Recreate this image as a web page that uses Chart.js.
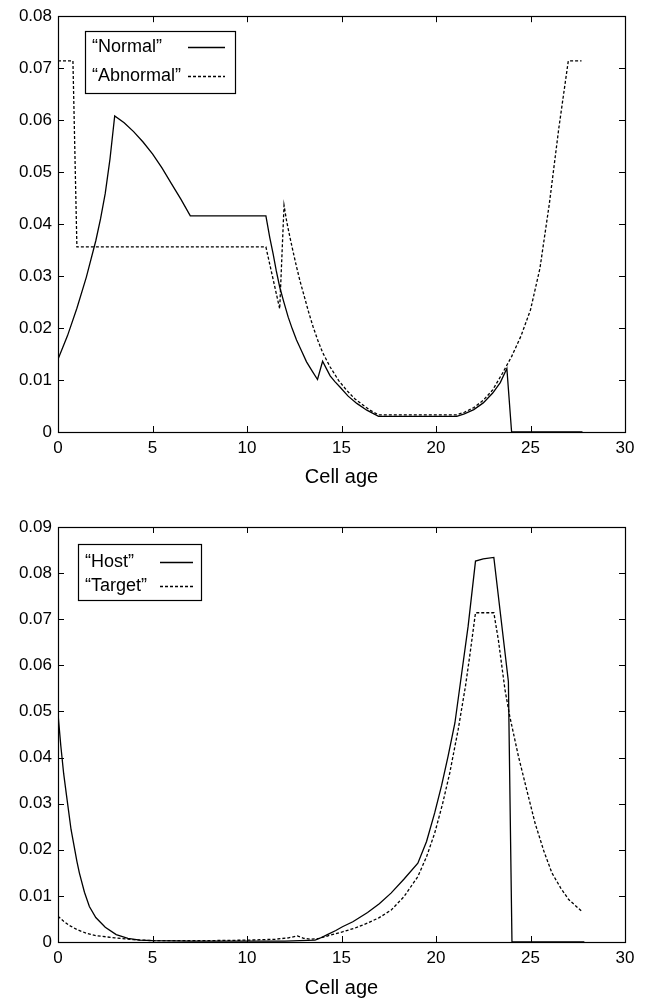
<!DOCTYPE html>
<html>
<head>
<meta charset="utf-8">
<script src="https://cdn.jsdelivr.net/npm/chart.js@4.4.1/dist/chart.umd.min.js"></script>
<style>
  body { margin: 0; background: #fff; }
  canvas { position: absolute; left: 0; }
</style>
</head>
<body>
<canvas id="diagram1" width="647" height="490" style="top:0px"></canvas>
<canvas id="diagram2" width="647" height="511" style="top:490px"></canvas>
<script>
// övre diagrammet: "Normal" / "Abnormal"
const ageNormal = [0, 0.5, 1.0, 1.5, 2.0, 2.25, 2.5, 2.75, 3.0, 3.5, 4, 4.5, 5, 5.5, 6, 6.5, 7,
  11, 11.2, 11.38, 11.55, 11.73, 11.95, 12.18, 12.4, 12.62, 12.9, 13.15, 13.45, 13.73,
  14.0, 14.2, 14.4, 14.65, 14.93, 15.35, 15.81, 16.34, 16.96,
  21.1, 21.5, 22, 22.5, 23, 23.4, 23.75, 24.0, 27.75];
const normal = [0.014, 0.0185, 0.0238, 0.0298, 0.0368, 0.041, 0.0459, 0.0525, 0.0608, 0.0595, 0.0578, 0.0558, 0.0535, 0.0508, 0.0478, 0.0448, 0.0416,
  0.0416, 0.0375, 0.0343, 0.031, 0.0279, 0.025, 0.0221, 0.0198, 0.0177, 0.0155, 0.0135, 0.0117, 0.0101,
  0.0136, 0.0122, 0.0108, 0.0097, 0.0086, 0.0069, 0.0055, 0.0042, 0.0030,
  0.0030, 0.0035, 0.0043, 0.0056, 0.0075, 0.0095, 0.0122, 0, 0];

const ageAbnormal = [0, 0.79, 1.0, 11.0, 11.73, 11.96, 12.1, 12.27, 12.45, 12.62, 12.8, 13.0, 13.25, 13.5, 13.75, 14.0, 14.4, 14.85,
  15.28, 15.7, 16.17, 16.55, 16.96, 21.1, 21.5, 22, 22.5, 23, 23.5, 24, 24.5, 25, 25.5, 26, 26.5, 27, 27.7];
const abnormal = [0.0714, 0.0714, 0.0356, 0.0356, 0.0237, 0.0436, 0.0405, 0.0375, 0.0345, 0.0318, 0.0291, 0.0265, 0.0232, 0.0202, 0.0176, 0.0153, 0.0125, 0.0099,
  0.0080, 0.0064, 0.0051, 0.0041, 0.0033, 0.0033, 0.0038, 0.0047, 0.0061, 0.0081, 0.0112, 0.0145, 0.0185, 0.0235, 0.0315, 0.044, 0.0585, 0.0714, 0.0714];

// nedre diagrammet: "Host" / "Target"
const ageHost = [0, 0.15, 0.3, 0.45, 0.69, 1.0, 1.13, 1.4, 1.66, 2.0, 2.5, 3.08, 3.7, 4.33, 5, 7, 10, 12, 13.6, 13.8,
  14.25, 14.7, 15.05, 15.6, 16.38, 17.0, 17.62, 18.3, 19.04, 19.5, 19.93, 20.3, 20.64, 21.0, 21.3, 21.7,
  22.09, 22.5, 23.06, 23.83, 24.02, 27.85];
const host = [0.0495, 0.0425, 0.0365, 0.0318, 0.0244, 0.0175, 0.015, 0.0108, 0.0077, 0.0053, 0.0032, 0.0016, 0.0008, 0.0004, 0.0003, 0.0002, 0.0002, 0.0002, 0.0004, 0.0007,
  0.0016, 0.0025, 0.0033, 0.0044, 0.0064, 0.0083, 0.0106, 0.0136, 0.0171, 0.0218, 0.028, 0.034, 0.0403, 0.0475, 0.0565, 0.0685,
  0.0826, 0.0831, 0.0834, 0.0565, 0, 0];

const ageTarget = [0, 0.3, 0.6, 1.0, 1.5, 2.0, 3.0, 4.0, 5.0, 8, 10, 11.5, 12.2, 12.66, 13.0, 13.4, 13.8,
  14.25, 15.05, 15.7, 16.38, 17.0, 17.62, 18.3, 19.04, 19.5, 19.93, 20.35, 20.73, 21.17, 21.56, 21.8,
  22.09, 23.06, 23.3, 23.65, 23.9, 24.36, 24.8, 25.24, 25.7, 26.13, 26.6, 27.02, 27.73];
const target = [0.0056, 0.0045, 0.0036, 0.0027, 0.0019, 0.0014, 0.0009, 0.0005, 0.0003, 0.0003, 0.0004, 0.0006, 0.0009, 0.0013, 0.0008, 0.0006, 0.0008,
  0.0013, 0.0022, 0.003, 0.0041, 0.0053, 0.0069, 0.0098, 0.0142, 0.0185, 0.0236, 0.03, 0.0367, 0.046, 0.0555, 0.0625,
  0.0714, 0.0714, 0.0655, 0.0547, 0.049, 0.0403, 0.033, 0.0258, 0.0198, 0.015, 0.0117, 0.0092, 0.0066];

const xMax = 30;
const xStep = 5;
const yMax1 = 0.08;
const yMax2 = 0.09;
const yStep = 0.01;
const xTitle = "Cell age";

const FONT = "'Liberation Sans', Arial, Helvetica, sans-serif";

//gör om två listor till punkter
function toPoints(ages, values) {
  return ages.map((a, i) => ({ x: a, y: values[i] }));
}

function line(label, ages, values, dash) {
  return {
    label: label,
    data: toPoints(ages, values),
    borderColor: "#000",
    borderWidth: 1.3,
    borderDash: dash,
    pointRadius: 0,
    tension: 0,
    fill: false,
  };
}

//ram, inåtvända streck och gnuplot-liknande legend
const framePlugin = {
  id: "frame",
  afterDraw(chart, args, opts) {
    const { ctx, chartArea: a, scales } = chart;
    const x = scales.x, y = scales.y;
    const t = 6;
    ctx.save();
    ctx.strokeStyle = "#000";
    ctx.lineWidth = 1.2;
    ctx.setLineDash([]);
    ctx.strokeRect(Math.round(a.left) + 0.5, Math.round(a.top) + 0.5,
      Math.round(a.right - a.left), Math.round(a.bottom - a.top));
    ctx.lineWidth = 1;
    ctx.beginPath();
    x.ticks.forEach((tk) => {
      const px = Math.round(x.getPixelForValue(tk.value)) + 0.5;
      ctx.moveTo(px, a.bottom); ctx.lineTo(px, a.bottom - t);
      ctx.moveTo(px, a.top); ctx.lineTo(px, a.top + t);
    });
    y.ticks.forEach((tk) => {
      const py = Math.round(y.getPixelForValue(tk.value)) + 0.5;
      ctx.moveTo(a.left, py); ctx.lineTo(a.left + t, py);
      ctx.moveTo(a.right, py); ctx.lineTo(a.right - t, py);
    });
    ctx.stroke();

    // legend
    const L = opts.legend;
    ctx.lineWidth = 1.2;
    ctx.strokeRect(L.x + 0.5, L.y + 0.5, L.w, L.h);
    ctx.font = "18px " + FONT;
    ctx.fillStyle = "#000";
    ctx.textBaseline = "middle";
    chart.data.datasets.forEach((ds, i) => {
      const cy = L.y + L.firstRow + i * L.rowH;
      ctx.fillText(ds.label, L.x + 7, cy);
      ctx.setLineDash(ds.borderDash || []);
      ctx.lineWidth = ds.borderWidth;
      ctx.beginPath();
      ctx.moveTo(L.sx, Math.round(cy) + 0.5);
      ctx.lineTo(L.sx + L.sw, Math.round(cy) + 0.5);
      ctx.stroke();
    });
    ctx.restore();
  },
};

function makeConfig(datasets, yMax, padTop, xHeight, legend) {
  return {
    type: "line",
    data: { datasets: datasets },
    options: {
      responsive: false,
      animation: false,
      parsing: false,
      layout: { padding: { top: padTop, right: 22, left: 0, bottom: 0 } },
      plugins: {
        legend: { display: false },
        tooltip: { enabled: false },
        frame: { legend: legend },
      },
      scales: {
        x: {
          type: "linear",
          min: 0,
          max: xMax,
          afterFit: (s) => { s.height = xHeight; },
          grid: { display: false, drawTicks: false },
          border: { display: false },
          ticks: { stepSize: xStep, color: "#000", padding: 6, maxRotation: 0, font: { family: FONT, size: 17 } },
          title: { display: true, text: xTitle, color: "#000", padding: { top: 0, bottom: 1 }, font: { family: FONT, size: 20 } },
        },
        y: {
          min: 0,
          max: yMax,
          afterFit: (s) => { s.width = 58; },
          grid: { display: false, drawTicks: false },
          border: { display: false },
          ticks: {
            stepSize: yStep,
            color: "#000",
            padding: 6,
            font: { family: FONT, size: 17 },
            callback: (v) => (Math.abs(v) < 1e-9 ? "0" : v.toFixed(2)),
          },
        },
      },
    },
    plugins: [framePlugin],
  };
}

const config1 = makeConfig(
  [line("\u201CNormal\u201D", ageNormal, normal, []), line("\u201CAbnormal\u201D", ageAbnormal, abnormal, [3, 2])],
  yMax1, 16, 58,
  { x: 85, y: 31, w: 150, h: 62, firstRow: 16, rowH: 29, sx: 188, sw: 37 }
);

const config2 = makeConfig(
  [line("\u201CHost\u201D", ageHost, host, []), line("\u201CTarget\u201D", ageTarget, target, [3, 2])],
  yMax2, 37, 59,
  { x: 78, y: 54, w: 123, h: 56, firstRow: 18, rowH: 24, sx: 160, sw: 33 }
);

const chart1 = new Chart(document.getElementById("diagram1"), config1);
const chart2 = new Chart(document.getElementById("diagram2"), config2);
</script>
</body>
</html>
